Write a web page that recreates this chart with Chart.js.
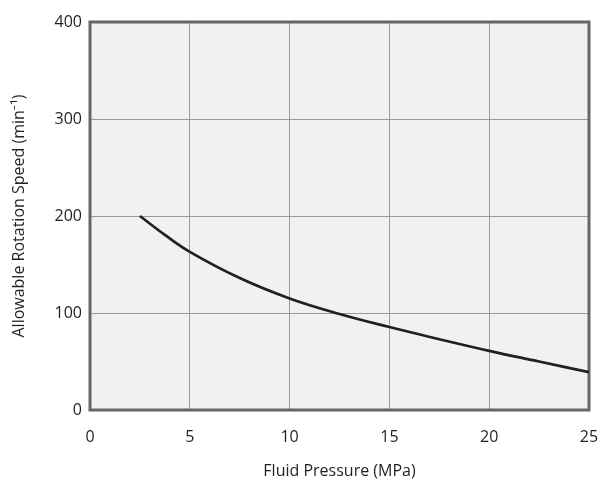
<!DOCTYPE html>
<html>
<head>
<meta charset="utf-8">
<script src="https://cdn.jsdelivr.net/npm/chart.js@4/dist/chart.umd.min.js"></script>
<style>
html,body{margin:0;padding:0;background:#fff;}
#wrap{width:600px;height:481px;position:relative;}
</style>
</head>
<body>
<div id="wrap"><canvas id="c" width="600" height="481"></canvas></div>
<script>
const pressure = [2.5, 3.75, 5, 7.5, 10, 12.5, 15, 17.5, 20, 22.5, 25];
const speed    = [200, 180.5, 163, 136, 115, 99, 85.5, 73, 61, 50, 39];
const xTicks = [0, 5, 10, 15, 20, 25];
const yTicks = [0, 100, 200, 300, 400];
const xTitle = 'Fluid Pressure (MPa)';
const yTitle = 'Allowable Rotation Speed (min⁻¹)';

const FONT = '"Open Sans", "Noto Sans", sans-serif';
const TXT = '#231f20';

const frame = {
  id: 'frame',
  beforeDraw(chart) {
    const {ctx, chartArea: a} = chart;
    ctx.save();
    ctx.fillStyle = '#f0f1f3';
    ctx.fillRect(a.left, a.top, a.right - a.left, a.bottom - a.top);
    ctx.restore();
  },
  beforeDatasetsDraw(chart) {
    const {ctx, chartArea: a} = chart;
    ctx.save();
    ctx.strokeStyle = '#666666';
    ctx.lineWidth = 3;
    ctx.strokeRect(a.left, a.top, a.right - a.left, a.bottom - a.top);
    ctx.restore();
  }
};

new Chart(document.getElementById('c'), {
  type: 'scatter',
  data: {
    datasets: [{
      data: pressure.map((p, i) => ({x: p, y: speed[i]})),
      showLine: true,
      borderColor: '#231f20',
      borderWidth: 2.7,
      pointRadius: 0,
      tension: 0.4,
      fill: false
    }]
  },
  options: {
    responsive: false,
    animation: false,
    layout: {padding: {top: 22, right: 0, left: 0, bottom: 0}},
    plugins: {legend: {display: false}, tooltip: {enabled: false}},
    scales: {
      x: {
        type: 'linear', min: 0, max: 25,
        afterBuildTicks(s) { s.ticks = xTicks.map(v => ({value: v})); },
        afterFit(s) { s.height = 71; s.paddingLeft = 0; s.paddingRight = 11; },
        grid: {color: '#9a9a9a', lineWidth: 1, drawTicks: false},
        border: {display: false},
        ticks: {color: TXT, font: {family: FONT, size: 16}, padding: 18, maxRotation: 0},
        title: {display: true, text: xTitle, color: TXT, font: {family: FONT, size: 16}, padding: 0}
      },
      y: {
        type: 'linear', min: 0, max: 400,
        afterBuildTicks(s) { s.ticks = yTicks.map(v => ({value: v})); },
        afterFit(s) { s.width = 90; s.paddingTop = 0; s.paddingBottom = 0; },
        grid: {color: '#9a9a9a', lineWidth: 1, drawTicks: false},
        border: {display: false},
        ticks: {color: TXT, font: {family: FONT, size: 16}, padding: 8},
        title: {display: true, text: yTitle, color: TXT, font: {family: FONT, size: 16}, padding: {top: 10, bottom: 0}}
      }
    }
  },
  plugins: [frame]
});
</script>
</body>
</html>
